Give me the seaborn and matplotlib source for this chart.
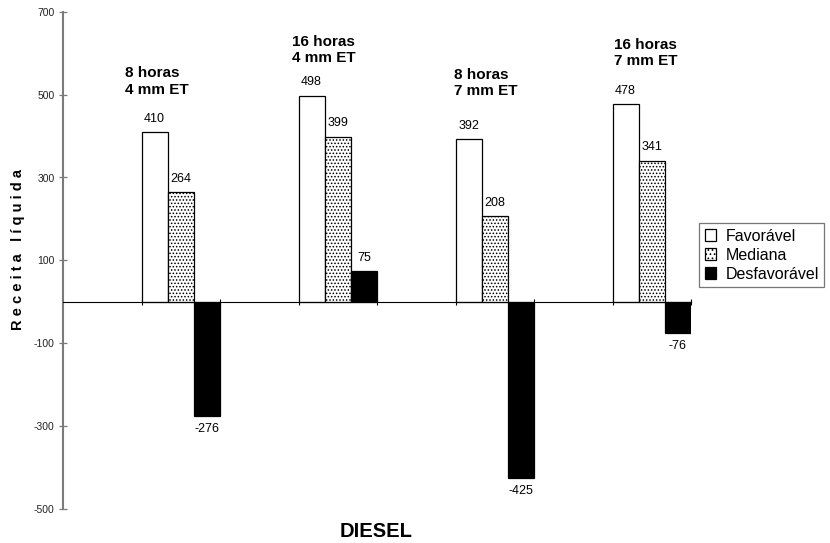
import numpy as np
import pandas as pd
import matplotlib
matplotlib.use("Agg")
import matplotlib.pyplot as plt
import seaborn as sns
from matplotlib.patches import Patch

# Data: net revenue per scenario for each diesel operating regime
grupos = ["8 horas\n4 mm ET", "16 horas\n4 mm ET", "8 horas\n7 mm ET", "16 horas\n7 mm ET"]
cenarios = ["Favorável", "Mediana", "Desfavorável"]
favoravel = [410, 498, 392, 478]
mediana = [264, 399, 208, 341]
desfavoravel = [-276, 75, -425, -76]
y_ticks = [-500, -300, -100, 100, 300, 500, 700]

df = pd.DataFrame({
    "grupo": grupos * 3,
    "cenario": np.repeat(cenarios, len(grupos)),
    "valor": favoravel + mediana + desfavoravel,
})

sns.set_theme(style="white")
plt.rcParams["font.family"] = ["Liberation Sans", "DejaVu Sans"]
plt.rcParams["text.color"] = "black"
plt.rcParams["hatch.linewidth"] = 0.7

fig = plt.figure(figsize=(8.3, 5.43), dpi=100)
ax = fig.add_axes([63 / 830, 1 - 508.7 / 543, (691 - 63) / 830, (508.7 - 11.9) / 543])

sns.barplot(
    data=df, x="grupo", y="valor", hue="cenario",
    order=grupos, hue_order=cenarios,
    palette=["white", "white", "black"], saturation=1,
    width=0.5, edgecolor="black", linewidth=0.9,
    errorbar=None, legend=False, ax=ax,
)

# dotted fill for the median scenario
for bar in ax.containers[1]:
    bar.set_hatch(".....")

# value labels above / below each bar
series = [favoravel, mediana, desfavoravel]
for cont, valores in zip(ax.containers, series):
    for bar, v in zip(cont, valores):
        off = 9.4 if v >= 0 else -9.4
        ax.annotate(f"{v}", (bar.get_x() + bar.get_width() / 2, v),
                    xytext=(0, off), textcoords="offset points",
                    ha="center", va="center", fontsize=9, color="black")

# group titles above each cluster
titulo_pos = [(-0.15, 531), (0.91, 608), (1.94, 528), (2.96, 601)]
for titulo, (tx, ty) in zip(grupos, titulo_pos):
    ax.text(tx, ty, titulo, ha="center", va="center", multialignment="left",
            fontsize=11, fontweight="bold", linespacing=1.25, color="black")

ax.set_xlim(-0.75, 3.25)
ax.set_ylim(-500, 700)
ax.set_yticks(y_ticks)
ax.set_yticklabels([str(t) for t in y_ticks])
edges = sorted([i - 0.25 for i in range(len(grupos))] + [i + 0.25 for i in range(len(grupos))])
ax.set_xticks(edges)
ax.set_xticklabels([""] * len(edges))
ax.set_xlabel("")
ax.set_ylabel("")

for s in ["top", "right"]:
    ax.spines[s].set_visible(False)
ax.spines["bottom"].set_position(("data", 0))
ax.spines["bottom"].set_color("black")
ax.spines["bottom"].set_linewidth(0.8)
ax.spines["left"].set_color("#7a7a7a")
ax.spines["left"].set_linewidth(1.5)

ax.tick_params(axis="y", left=True, direction="inout", length=6, width=0.9,
               color="#7a7a7a", labelsize=7.5, labelcolor="#222222", pad=3)
ax.tick_params(axis="x", bottom=True, direction="inout", length=5, width=0.8,
               color="black")

handles = [
    Patch(facecolor="white", edgecolor="black", linewidth=0.9, label="Favorável"),
    Patch(facecolor="white", edgecolor="black", linewidth=0.9, hatch="....", label="Mediana"),
    Patch(facecolor="black", edgecolor="black", linewidth=0.9, label="Desfavorável"),
]
leg = fig.legend(handles=handles, loc="upper left",
                 bbox_to_anchor=(699 / 830, 1 - 223 / 543),
                 frameon=True, fancybox=False, shadow=False,
                 fontsize=11.5, handlelength=0.7, handleheight=0.7,
                 handletextpad=0.6, labelspacing=0.25, borderpad=0.35,
                 borderaxespad=0)
leg.get_frame().set_edgecolor("#555555")
leg.get_frame().set_linewidth(0.9)

fig.text(18 / 830, 1 - 249 / 543, "R e c e i t a   l í q u i d a",
         rotation=90, ha="center", va="center", fontsize=10.5, fontweight="bold")
fig.text(376 / 830, 1 - 531.7 / 543, "DIESEL", ha="center", va="center",
         fontsize=14.5, fontweight="bold")

fig.savefig("out.png", dpi=100)
